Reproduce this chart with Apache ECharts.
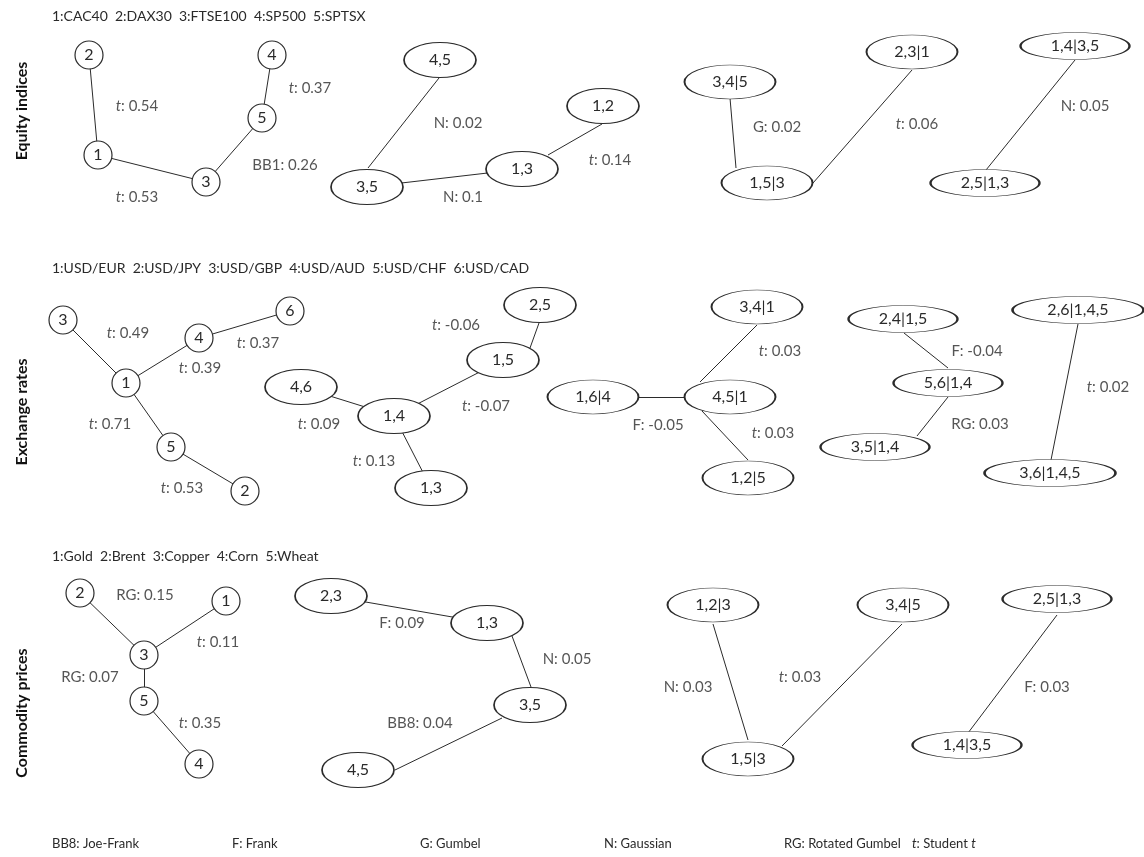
<!DOCTYPE html>
<html><head><meta charset="utf-8">
<script src="https://cdn.jsdelivr.net/npm/echarts@6/dist/echarts.min.js"></script>
<style>html,body{margin:0;padding:0;background:#fff}#c{width:1144px;height:857px}</style>
</head><body><div id="c"></div>
<script>
// ================= DATA =================
const equityVars = ['CAC40', 'DAX30', 'FTSE100', 'SP500', 'SPTSX'];
const fxVars = ['USD/EUR', 'USD/JPY', 'USD/GBP', 'USD/AUD', 'USD/CHF', 'USD/CAD'];
const commodityVars = ['Gold', 'Brent', 'Copper', 'Corn', 'Wheat'];
const panelNames = ['Equity indices', 'Exchange rates', 'Commodity prices'];

// edges: [node A, node B, copula family, Kendall tau]
const equityEdges = [
  ['2', '1', 't', 0.54], ['1', '3', 't', 0.53], ['3', '5', 'BB1', 0.26], ['5', '4', 't', 0.37],
  ['4,5', '3,5', 'N', 0.02], ['3,5', '1,3', 'N', 0.1], ['1,3', '1,2', 't', 0.14],
  ['3,4|5', '1,5|3', 'G', 0.02], ['1,5|3', '2,3|1', 't', 0.06],
  ['1,4|3,5', '2,5|1,3', 'N', 0.05]
];
const fxEdges = [
  ['3', '1', 't', 0.49], ['1', '4', 't', 0.39], ['4', '6', 't', 0.37], ['1', '5', 't', 0.71], ['5', '2', 't', 0.53],
  ['4,6', '1,4', 't', 0.09], ['1,4', '1,5', 't', -0.07], ['1,5', '2,5', 't', -0.06], ['1,4', '1,3', 't', 0.13],
  ['1,6|4', '4,5|1', 'F', -0.05], ['4,5|1', '3,4|1', 't', 0.03], ['4,5|1', '1,2|5', 't', 0.03],
  ['2,4|1,5', '5,6|1,4', 'F', -0.04], ['5,6|1,4', '3,5|1,4', 'RG', 0.03],
  ['2,6|1,4,5', '3,6|1,4,5', 't', 0.02]
];
const commodityEdges = [
  ['2', '3', 'RG', 0.15], ['3', '1', 't', 0.11], ['3', '5', 'RG', 0.07], ['5', '4', 't', 0.35],
  ['2,3', '1,3', 'F', 0.09], ['1,3', '3,5', 'N', 0.05], ['3,5', '4,5', 'BB8', 0.04],
  ['1,2|3', '1,5|3', 'N', 0.03], ['1,5|3', '3,4|5', 't', 0.03],
  ['2,5|1,3', '1,4|3,5', 'F', 0.03]
];
const familyCodes = ['BB8', 'F', 'G', 'N', 'RG', 't'];
const familyNames = ['Joe-Frank', 'Frank', 'Gumbel', 'Gaussian', 'Rotated Gumbel', 'Student t'];

// ================= LAYOUT (drawing positions, in page units) =================
const layout = {
  equity: {
    title: [52, 16], side: [22, 111],
    nodes: {
      '1': [98, 155], '2': [89, 55], '3': [206, 182], '4': [272, 55], '5': [262, 118],
      '4,5': [440, 60], '3,5': [367, 187], '1,3': [522, 169], '1,2': [603, 106],
      '3,4|5': [730, 82], '2,3|1': [912, 52], '1,5|3': [767, 183],
      '1,4|3,5': [1075, 46], '2,5|1,3': [985, 183]
    },
    // edge attachment offsets from node centres: edgeIndex -> [[dxA,dyA],[dxB,dyB]]
    anchors: { 4: [[-1, 18], [1, -19]], 6: [[26, -14], [-1, 18]], 7: [[0, 16], [-31, -15]],
               8: [[46, 0], [0, 18]], 9: [[0, 14], [1, -13]] },
    labels: [[137, 106], [137, 197], [285, 165], [310, 88],
             [458, 123], [463, 197], [610, 160],
             [777, 127], [917, 124], [1085, 106]]
  },
  fx: {
    title: [52, 268], side: [22, 412],
    nodes: {
      '3': [63, 320], '1': [126, 383], '4': [199, 338], '6': [290, 311], '5': [171, 447], '2': [245, 491],
      '4,6': [301, 387], '1,4': [394, 416], '1,5': [503, 360], '2,5': [540, 305], '1,3': [431, 488],
      '1,6|4': [593, 397], '4,5|1': [730, 397], '3,4|1': [757, 307], '1,2|5': [748, 478],
      '2,4|1,5': [903, 319], '5,6|1,4': [948, 383], '3,5|1,4': [875, 447],
      '2,6|1,4,5': [1078, 310], '3,6|1,4,5': [1050, 473]
    },
    anchors: { 7: [[27, -12], [-1, 18]], 10: [[-30, -15], [0, 18]], 11: [[-28, 14], [0, -18]],
               12: [[1, 14], [0, -15]], 13: [[0, 14], [42, -11]], 14: [[0, 14], [1, -13]] },
    labels: [[128, 333], [200, 368], [258, 343], [110, 424], [182, 488],
             [319, 424], [486, 406], [456, 325], [374, 461],
             [658, 425], [780, 351], [773, 433],
             [977, 351], [980, 424],
             [1108, 387]]
  },
  commodity: {
    title: [52, 556], side: [22, 713],
    nodes: {
      '2': [80, 593], '1': [226, 601], '3': [144, 655], '5': [144, 701], '4': [199, 764],
      '2,3': [331, 596], '1,3': [487, 623], '3,5': [530, 705], '4,5': [358, 770],
      '1,2|3': [713, 605], '3,4|5': [903, 605], '1,5|3': [748, 759],
      '2,5|1,3': [1057, 599], '1,4|3,5': [967, 745]
    },
    anchors: { 5: [[25, 13], [1, -18]], 6: [[-28, 13], [37, 0]], 7: [[0, 19], [0, -19]],
               8: [[34, -13], [-1, 19]], 9: [[0, 16], [1, -12]] },
    labels: [[145, 595], [218, 642], [90, 677], [200, 723],
             [402, 623], [567, 659], [420, 723],
             [688, 687], [800, 677],
             [1047, 687]]
  },
  legendX: [52, 232, 420, 604, 784, 912], legendY: 844
};

// ================= BUILD =================
const FONT = 'Lato, "Open Sans", sans-serif';
const TXT = '#2a2a2a';
const LINE = '#2b2b2b';
const ELLIPSE = 'path://M0,1A1,1,0,1,1,2,1A1,1,0,1,1,0,1Z';

function nodeSize(name) {
  const n = name.length;
  if (n === 1) return [28, 28];
  if (n <= 3) return [72, 35];
  if (n <= 5) return [91, 34];
  if (n <= 7) return [109, 27];
  return [131, 27];
}
function fmtTau(v) { return String(v); }
function edgeText(fam, tau) {
  const f = fam === 't' ? '{i|t}' : fam;
  return f + ': ' + fmtTau(tau);
}
function endPoint(L, e, idx, side) {
  const c = L.nodes[e[side]];
  const a = L.anchors && L.anchors[idx];
  return a ? [c[0] + a[side][0], c[1] + a[side][1]] : c;
}

const panels = [
  { key: 'equity', vars: equityVars, edges: equityEdges },
  { key: 'fx', vars: fxVars, edges: fxEdges },
  { key: 'commodity', vars: commodityVars, edges: commodityEdges }
];

const series = [];
const graphic = [];

panels.forEach((p, pi) => {
  const L = layout[p.key];
  const names = [];
  p.edges.forEach(e => { [e[0], e[1]].forEach(n => { if (names.indexOf(n) < 0) names.push(n); }); });

  series.push({
    type: 'lines', coordinateSystem: 'cartesian2d', silent: true, z: 1,
    lineStyle: { color: LINE, width: 1, opacity: 1 },
    data: p.edges.map((e, i) => ({ coords: [endPoint(L, e, i, 0), endPoint(L, e, i, 1)] }))
  });
  series.push({
    type: 'scatter', silent: true, z: 3,
    symbol: ELLIPSE,
    itemStyle: { color: '#fff', borderColor: LINE, borderWidth: 1.2, opacity: 1 },
    label: { show: true, position: 'inside', formatter: '{b}', color: TXT, fontSize: 16, fontFamily: FONT },
    data: names.map(n => ({ name: n, value: L.nodes[n], symbolSize: nodeSize(n) }))
  });
  series.push({
    type: 'scatter', silent: true, z: 2, symbolSize: 0,
    label: {
      show: true, position: 'inside', color: TXT, fontSize: 15, fontFamily: FONT,
      formatter: prm => prm.data.text,
      rich: { i: { fontStyle: 'italic', fontSize: 15, fontFamily: FONT, color: TXT } }
    },
    data: p.edges.map((e, i) => ({ value: L.labels[i], text: edgeText(e[2], e[3]) }))
  });

  graphic.push({
    type: 'text', x: L.title[0], y: L.title[1], silent: true,
    style: {
      text: p.vars.map((v, i) => (i + 1) + ':' + v).join('  '),
      fill: TXT, font: '14px ' + FONT, align: 'left', verticalAlign: 'middle'
    }
  });
  graphic.push({
    type: 'text', x: L.side[0], y: L.side[1], rotation: Math.PI / 2, silent: true,
    style: {
      text: panelNames[pi], fill: '#111', font: 'bold 16px ' + FONT,
      align: 'center', verticalAlign: 'middle'
    }
  });
});

familyCodes.forEach((c, i) => {
  let txt = (c === 't' ? '{i|t}' : c) + ': ' + familyNames[i];
  if (c === 't') txt = txt.replace(/ t$/, ' {i|t}');
  graphic.push({
    type: 'text', x: layout.legendX[i], y: layout.legendY, silent: true,
    style: {
      text: txt, fill: TXT, font: '13px ' + FONT, align: 'left', verticalAlign: 'middle',
      rich: { i: { fontStyle: 'italic', fontSize: 13, fontFamily: FONT, fill: TXT } }
    }
  });
});

const chart = echarts.init(document.getElementById('c'), null, { renderer: 'canvas' });
chart.setOption({
  animation: false,
  backgroundColor: '#fff',
  grid: { left: 0, right: 0, top: 0, bottom: 0 },
  xAxis: { type: 'value', min: 0, max: 1144, show: false },
  yAxis: { type: 'value', min: 0, max: 857, inverse: true, show: false },
  series: series,
  graphic: graphic
});
</script>
</body></html>
